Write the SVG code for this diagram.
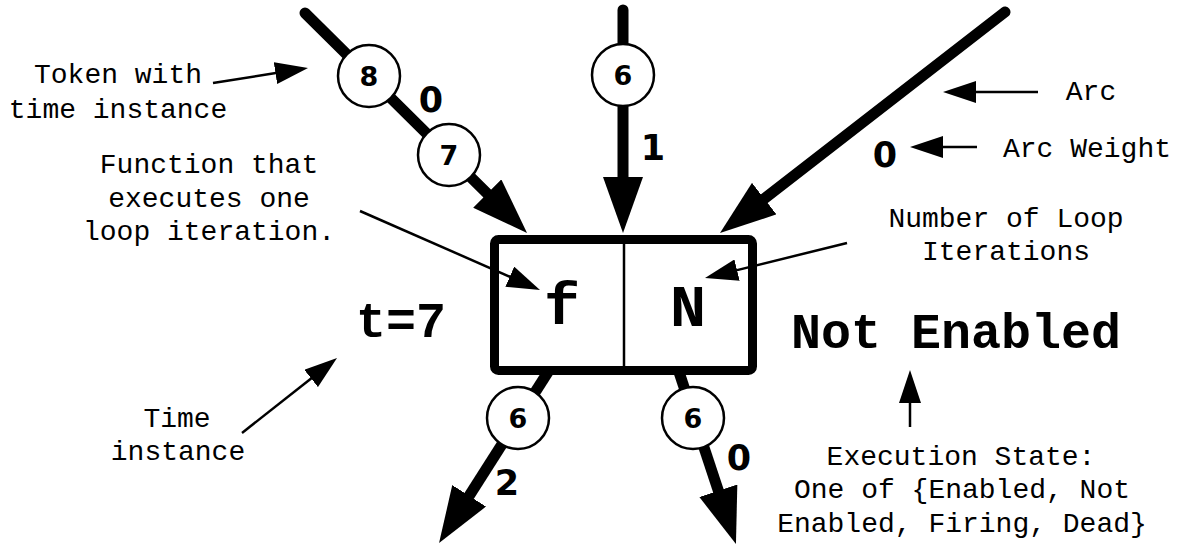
<svg xmlns="http://www.w3.org/2000/svg" width="1179" height="545" viewBox="0 0 1179 545">
<style>
.arc{stroke:#000;stroke-width:11;fill:none;stroke-linecap:round;marker-end:url(#bigHead)}
.ptr{stroke:#000;stroke-width:2.5;fill:none;marker-end:url(#smallHead)}
.tok{fill:#fff;stroke:#000;stroke-width:2.5}
.tokt{font-family:"DejaVu Sans",Verdana,sans-serif;font-weight:bold;font-size:27px;text-anchor:middle}
.wt{font-family:"DejaVu Sans",Verdana,sans-serif;font-weight:bold;font-size:35px;text-anchor:middle}
.note{font-family:"Courier New","Liberation Mono",monospace;font-size:28px;text-anchor:middle}
.big{font-family:"Courier New","Liberation Mono",monospace;font-weight:bold;font-size:50px;text-anchor:middle}
.cell{font-family:"Courier New","Liberation Mono",monospace;font-weight:bold;font-size:60px;text-anchor:middle}
</style>
<defs>
<marker id="bigHead" viewBox="0 0 56 40" refX="4" refY="20" markerWidth="56" markerHeight="40" markerUnits="userSpaceOnUse" orient="auto">
<path d="M0,0 L56,20 L0,40 Z" fill="#000"/>
</marker>
<marker id="smallHead" viewBox="0 0 33 22" refX="2" refY="11" markerWidth="33" markerHeight="22" markerUnits="userSpaceOnUse" orient="auto">
<path d="M0,0 L33,11 L0,22 Z" fill="#000"/>
</marker>
</defs>
<rect width="1179" height="545" fill="#fff"/>
<g id="transition">
<rect x="494.5" y="239.5" width="258" height="131" rx="4" fill="#fff" stroke="#000" stroke-width="9"/>
<line x1="624" y1="239.5" x2="624" y2="370.5" stroke="#000" stroke-width="2.5"/>
<text class="cell" x="562" y="324">f</text>
<text class="cell" x="688" y="326">N</text>
</g>
<g id="connectors">
<line class="arc" x1="305" y1="13" x2="490.1" y2="196.4"/>
<line class="arc" x1="623" y1="10" x2="623" y2="181"/>
<line class="arc" x1="1005" y1="12" x2="761.1" y2="201.1"/>
<line class="arc" x1="548" y1="372" x2="467" y2="499.2" style="stroke-linecap:butt"/>
<line class="arc" x1="679" y1="372" x2="719.6" y2="494.6" style="stroke-linecap:butt"/>
<line class="ptr" x1="213" y1="83" x2="277.4" y2="72.8"/>
<line class="ptr" x1="360" y1="211" x2="511.6" y2="277.5"/>
<line class="ptr" x1="847" y1="243" x2="735.1" y2="270.6"/>
<line class="ptr" x1="1038" y1="92" x2="974" y2="92"/>
<line class="ptr" x1="977" y1="147" x2="941" y2="147"/>
<line class="ptr" x1="242" y1="433" x2="312.7" y2="377.2"/>
<line class="ptr" x1="910" y1="427" x2="910" y2="401"/>
</g>
<g id="token-8"><circle class="tok" cx="369" cy="76" r="31"/><text class="tokt" x="369" y="86">8</text></g>
<g id="token-7"><circle class="tok" cx="449" cy="155" r="31"/><text class="tokt" x="449" y="165">7</text></g>
<g id="token-6-top"><circle class="tok" cx="623" cy="75" r="31"/><text class="tokt" x="623" y="85">6</text></g>
<g id="token-6-left"><circle class="tok" cx="518" cy="418" r="31"/><text class="tokt" x="518" y="428">6</text></g>
<g id="token-6-right"><circle class="tok" cx="693" cy="418" r="31"/><text class="tokt" x="693" y="428">6</text></g>
<g id="weights">
<text class="wt" x="431" y="112">0</text>
<text class="wt" x="653" y="160">1</text>
<text class="wt" x="885" y="167">0</text>
<text class="wt" x="507" y="495">2</text>
<text class="wt" x="739" y="470">0</text>
</g>
<g id="labels">
<text class="note" x="118" y="83">Token with</text>
<text class="note" x="118" y="118">time instance</text>
<text class="note" x="209" y="173">Function that</text>
<text class="note" x="209" y="207">executes one</text>
<text class="note" x="209" y="240">loop iteration.</text>
<text class="note" x="1006" y="227">Number of Loop</text>
<text class="note" x="1006" y="260">Iterations</text>
<text class="note" x="1091" y="100">Arc</text>
<text class="note" x="1087" y="157">Arc Weight</text>
<text class="note" x="177" y="427">Time</text>
<text class="note" x="178" y="460">instance</text>
<text class="note" x="961" y="465">Execution State:</text>
<text class="note" x="962" y="498">One of {Enabled, Not</text>
<text class="note" x="962" y="532">Enabled, Firing, Dead}</text>
<text class="big" x="956" y="348">Not Enabled</text>
<text class="big" x="401" y="337">t=7</text>
</g>
</svg>
